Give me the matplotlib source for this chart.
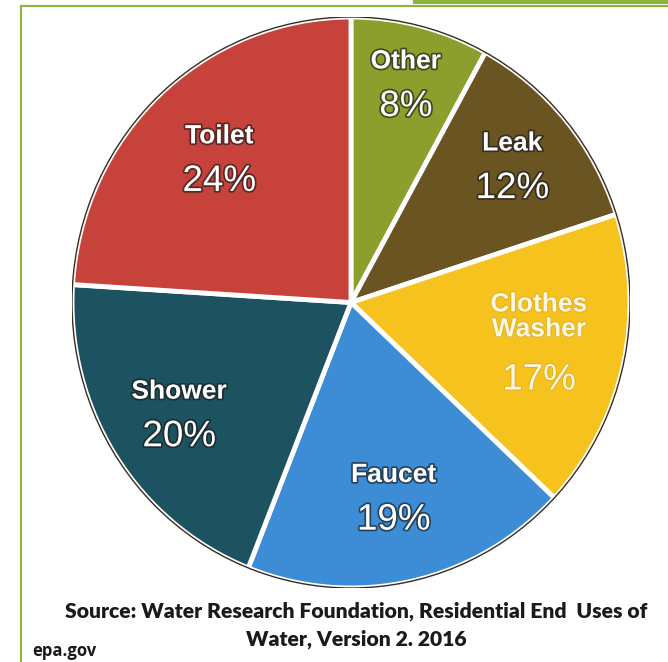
import matplotlib
matplotlib.use("Agg")
import matplotlib.pyplot as plt
import matplotlib.patheffects as pe
from matplotlib.lines import Line2D
from matplotlib.patches import Ellipse
import numpy as np

categories = ["Other", "Leak", "Clothes\nWasher", "Faucet", "Shower", "Toilet"]
values = [8, 12, 17, 19, 20, 24]
colors = ["#8c9f2c", "#6a5421", "#f6c21d", "#3c8dd5", "#1d5360", "#c8423c"]
label_colors = ["white", "white", "#fdf6e3", "white", "white", "white"]
label_dist = [0.79, 0.75, 0.69, 0.70, 0.73, 0.69]
source_lines = ["Source: Water Research Foundation, Residential End  Uses of",
                "Water, Version 2. 2016"]
credit = "epa.gov"

W, H = 668, 662
fig = plt.figure(figsize=(W/100, H/100), dpi=100)
fig.patch.set_facecolor("white")
# pie box: x 72..630, y 17..588 (pixels from top-left)
ax = fig.add_axes([72/W, 1-588/H, 558/W, 571/H])

wedges, _ = ax.pie(values, colors=colors, startangle=90, counterclock=False,
                   radius=1.0,
                   wedgeprops=dict(edgecolor="white", linewidth=3.5))
ax.add_patch(Ellipse((0, 0), 2.0, 2.0, fill=False, edgecolor="#3a2a20",
                     linewidth=1.0, zorder=5))
ax.set_aspect("auto")
ax.set_xlim(-1.0, 1.0)
ax.set_ylim(-1.0, 1.0)
ax.axis("off")

shadow = [pe.withStroke(linewidth=2.5, foreground="#1a1a1a", alpha=0.65)]
for w, name, v, d, tc in zip(wedges, categories, values, label_dist, label_colors):
    mid = np.deg2rad((w.theta1 + w.theta2) / 2)
    x, y = d * np.cos(mid), d * np.sin(mid)
    nlines = name.count("\n") + 1
    name_off = 0.079 if nlines == 1 else 0.10
    pct_off = 0.079 if nlines == 1 else 0.121
    eff = shadow if tc == "white" else [pe.withStroke(linewidth=1.2, foreground="#c9a020", alpha=0.6)]
    ax.text(x, y + name_off, name, ha="center", va="center", fontsize=19,
            fontweight="bold", color=tc, family="Liberation Sans",
            linespacing=1.05, path_effects=eff, zorder=6)
    ax.text(x, y - pct_off, f"{v}%", ha="center", va="center", fontsize=26.5,
            color=tc, family="Liberation Sans", path_effects=eff, zorder=6)

src_font = ["Lato", "DejaVu Sans"]
t1 = fig.text(356/W, 1-611/H, source_lines[0], ha="center", va="center",
              fontsize=15, fontweight="heavy", color="#1a1a1a", family=src_font)
t2 = fig.text(356/W, 1-639/H, source_lines[1], ha="center", va="center",
              fontsize=15, fontweight="heavy", color="#1a1a1a", family=src_font)
fig.canvas.draw()
r = fig.canvas.get_renderer()
wpx = t1.get_window_extent(r).width
fs = 15 * 585 / wpx
t1.set_fontsize(fs)
t2.set_fontsize(fs)

fig.text(32/W, 1-651/H, credit, ha="left", va="center", fontsize=12,
         fontweight="bold", color="#1a1a1a", family=["Open Sans", "DejaVu Sans"])

green = "#8db33a"
fig.add_artist(Line2D([21/W, 21/W], [0, 1-6/H], color=green, linewidth=1.5))
fig.add_artist(Line2D([21/W, 1], [1-6/H, 1-6/H], color=green, linewidth=1.5))
fig.add_artist(Line2D([415/W, 1], [1-1.5/H, 1-1.5/H], color=green, linewidth=3))

fig.savefig("out.png", dpi=100, facecolor="white")
